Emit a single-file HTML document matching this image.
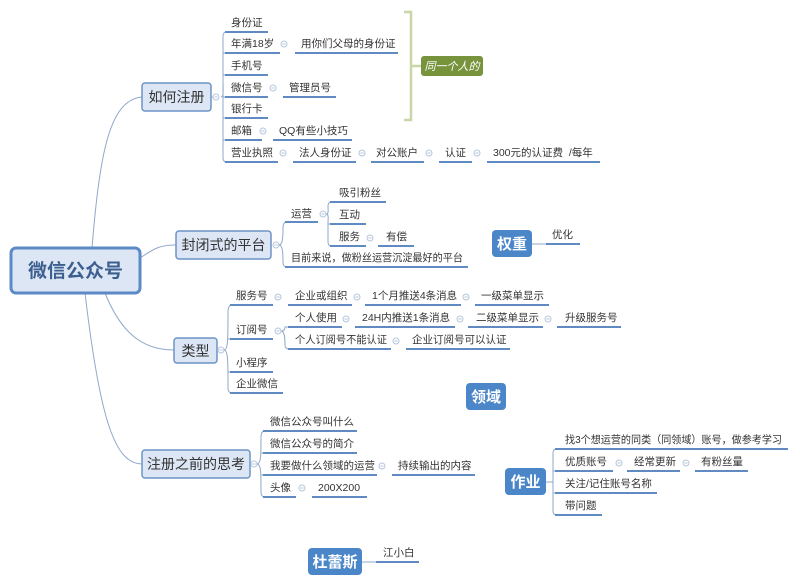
<!DOCTYPE html>
<html><head><meta charset="utf-8"><style>
html,body{margin:0;padding:0;background:#fff;}
svg{display:block;font-family:"Liberation Sans","Noto Sans CJK SC",sans-serif;}
.t{font-size:10.5px;fill:#333;}
.m{font-size:14px;fill:#333;}
.u{stroke:#5f8ac2;stroke-width:2;}
.l{stroke:#8fa8c8;stroke-width:1;fill:none;}
.c{stroke:#b5c6dc;stroke-width:1;fill:#fff;}
.box{fill:#dce6f4;stroke:#6d94c7;stroke-width:1.5;}
.bb{fill:#4a86c8;}
.bt{font-size:15px;fill:#fff;font-weight:bold;}
</style></head><body>
<svg width="800" height="585" viewBox="0 0 800 585">
<defs>
<g id="cm"><circle class="c" cx="0" cy="0" r="3"/><line x1="-1.6" y1="0" x2="1.6" y2="0" stroke="#b5c6dc"/></g>
</defs>
<path class="l" d="M92,248 C100,150 110,100 142,97"/>
<path class="l" d="M140,258 C155,248 160,245 176,245"/>
<path class="l" d="M105,293 C120,330 140,350 174,350"/>
<path class="l" d="M85,293 C100,420 115,464 142,464"/>

<rect x="11" y="248" width="129" height="45" rx="5" fill="#dce6f4" stroke="#5b8ac6" stroke-width="3"/>
<text x="75.5" y="277" text-anchor="middle" font-size="19" font-weight="bold" fill="#3d5f8f">微信公众号</text>

<rect class="box" x="142" y="83" width="69" height="28" rx="3"/>
<text class="m" x="176.5" y="102" text-anchor="middle">如何注册</text>
<path class="l" d="M211,97 H218 M221,97 C224,97 223,90 223,80 V36 Q223,32 227,32 M223,80 V158 Q223,162 227,162 M223,53 H225 M223,75 H225 M223,97 H225 M223,118 H225 M223,140 H225"/>
<use href="#cm" x="216" y="97"/>
<g class="t">
<text x="231" y="26">身份证</text>
<text x="231" y="47">年满18岁</text><text x="301" y="47">用你们父母的身份证</text>
<text x="231" y="69">手机号</text>
<text x="231" y="91">微信号</text><text x="289" y="91">管理员号</text>
<text x="231" y="112">银行卡</text>
<text x="231" y="134">邮箱</text><text x="279" y="134">QQ有些小技巧</text>
<text x="231" y="156">营业执照</text><text x="299" y="156">法人身份证</text><text x="376" y="156">对公账户</text><text x="445" y="156">认证</text><text x="493" y="156">300元的认证费&#160;&#160;/每年</text>
</g>
<g class="u">
<line x1="225" y1="32" x2="268" y2="32"/>
<line x1="225" y1="53" x2="280" y2="53"/><line x1="295" y1="53" x2="398" y2="53"/>
<line x1="225" y1="75" x2="268" y2="75"/>
<line x1="225" y1="97" x2="268" y2="97"/><line x1="283" y1="97" x2="336" y2="97"/>
<line x1="225" y1="118" x2="268" y2="118"/>
<line x1="225" y1="140" x2="262" y2="140"/><line x1="273" y1="140" x2="352" y2="140"/>
<line x1="225" y1="162" x2="278" y2="162"/><line x1="293" y1="162" x2="356" y2="162"/><line x1="371" y1="162" x2="424" y2="162"/><line x1="439" y1="162" x2="472" y2="162"/><line x1="487" y1="162" x2="600" y2="162"/>
</g>
<use href="#cm" x="284" y="44"/><use href="#cm" x="273" y="88"/><use href="#cm" x="263" y="131"/><use href="#cm" x="283" y="153"/><use href="#cm" x="362" y="153"/><use href="#cm" x="429" y="153"/><use href="#cm" x="477" y="153"/>

<path d="M404,12 H411 V120 H404 M411,66 H421" stroke="#c9d6a8" stroke-width="2.5" fill="none"/>
<rect x="421" y="56" width="62" height="20" rx="3" fill="#77933c"/>
<text x="452" y="70" text-anchor="middle" font-size="11" font-style="italic" fill="#fff">同一个人的</text>

<rect class="box" x="176" y="231" width="95" height="28" rx="3"/>
<text class="m" x="223.5" y="250" text-anchor="middle">封闭式的平台</text>
<use href="#cm" x="276" y="245"/>
<path class="l" d="M279,245 C283,245 283,235 283,228 Q283,222 287,222 M279,245 C283,245 283,255 283,262 Q283,267 287,267"/>
<path class="l" d="M326,214 C329,214 328,210 328,206 Q328,202 332,202 M326,214 C329,214 328,218 328,224 H332 M328,224 V242 Q328,246 332,246"/>
<use href="#cm" x="323" y="214"/><use href="#cm" x="370" y="238"/>
<g class="t">
<text x="291" y="217">运营</text>
<text x="339" y="196">吸引粉丝</text>
<text x="339" y="218">互动</text>
<text x="339" y="240">服务</text><text x="386" y="240">有偿</text>
<text x="291" y="261" textLength="172" lengthAdjust="spacingAndGlyphs">目前来说，做粉丝运营沉淀最好的平台</text>
</g>
<g class="u">
<line x1="285" y1="222" x2="318" y2="222"/>
<line x1="330" y1="202" x2="386" y2="202"/>
<line x1="330" y1="224" x2="366" y2="224"/>
<line x1="330" y1="246" x2="366" y2="246"/><line x1="378" y1="246" x2="414" y2="246"/>
<line x1="285" y1="267" x2="468" y2="267"/>
</g>

<rect class="bb" x="492" y="230" width="40" height="27" rx="4"/>
<text class="bt" x="512" y="249" text-anchor="middle">权重</text>
<path class="l" d="M532,244 H546"/>
<text class="t" x="552" y="238">优化</text>
<line class="u" x1="546" y1="244" x2="580" y2="244"/>

<rect class="box" x="174" y="338" width="43" height="25" rx="3"/>
<text class="m" x="195.5" y="356" text-anchor="middle">类型</text>
<use href="#cm" x="221" y="350"/>
<path class="l" d="M224,350 C228,350 228,340 228,312 Q228,305 232,305 M224,350 C228,350 228,360 228,388 Q228,393 232,393 M228,339 H232 M228,372 H232"/>
<path class="l" d="M281,331 C285,331 285,328 285,327 H288 M281,331 C285,331 285,340 285,345 Q285,349 289,349"/>
<g class="t">
<text x="236" y="299">服务号</text><text x="295" y="299">企业或组织</text><text x="372" y="299">1个月推送4条消息</text><text x="481" y="299">一级菜单显示</text>
<text x="236" y="333">订阅号</text>
<text x="295" y="321">个人使用</text><text x="362" y="321">24H内推送1条消息</text><text x="476" y="321">二级菜单显示</text><text x="565" y="321">升级服务号</text>
<text x="295" y="343" textLength="92" lengthAdjust="spacingAndGlyphs">个人订阅号不能认证</text><text x="412" y="343">企业订阅号可以认证</text>
<text x="236" y="366">小程序</text>
<text x="236" y="387">企业微信</text>
</g>
<g class="u">
<line x1="230" y1="305" x2="273" y2="305"/><line x1="288" y1="305" x2="352" y2="305"/><line x1="365" y1="305" x2="461" y2="305"/><line x1="475" y1="305" x2="549" y2="305"/>
<line x1="230" y1="339" x2="273" y2="339"/>
<line x1="288" y1="327" x2="342" y2="327"/><line x1="355" y1="327" x2="455" y2="327"/><line x1="468" y1="327" x2="543" y2="327"/><line x1="557" y1="327" x2="621" y2="327"/>
<line x1="288" y1="349" x2="391" y2="349"/><line x1="406" y1="349" x2="510" y2="349"/>
<line x1="230" y1="372" x2="273" y2="372"/>
<line x1="230" y1="393" x2="283" y2="393"/>
</g>
<use href="#cm" x="278" y="297"/><use href="#cm" x="357" y="297"/><use href="#cm" x="466" y="297"/>
<use href="#cm" x="278" y="331"/>
<use href="#cm" x="346" y="319"/><use href="#cm" x="460" y="319"/><use href="#cm" x="548" y="319"/>
<use href="#cm" x="396" y="341"/>

<rect class="bb" x="466" y="383" width="40" height="27" rx="4"/>
<text class="bt" x="486" y="402" text-anchor="middle">领域</text>

<rect class="box" x="142" y="450" width="108" height="28" rx="3"/>
<text class="m" x="196" y="469" text-anchor="middle">注册之前的思考</text>
<use href="#cm" x="254" y="464"/>
<path class="l" d="M257,464 C261,464 261,455 261,437 Q261,431 265,431 M257,464 C261,464 261,472 261,492 Q261,497 265,497 M261,453 H264 M261,475 H264"/>
<g class="t">
<text x="270" y="425">微信公众号叫什么</text>
<text x="270" y="447">微信公众号的简介</text>
<text x="270" y="469">我要做什么领域的运营</text><text x="398" y="469">持续输出的内容</text>
<text x="270" y="491">头像</text><text x="318" y="491">200X200</text>
</g>
<g class="u">
<line x1="263" y1="431" x2="357" y2="431"/>
<line x1="263" y1="453" x2="357" y2="453"/>
<line x1="263" y1="475" x2="377" y2="475"/><line x1="392" y1="475" x2="475" y2="475"/>
<line x1="263" y1="497" x2="296" y2="497"/><line x1="312" y1="497" x2="367" y2="497"/>
</g>
<use href="#cm" x="382" y="466"/><use href="#cm" x="302" y="488"/>

<rect class="bb" x="505" y="468" width="41" height="27" rx="4"/>
<text class="bt" x="525.5" y="487" text-anchor="middle">作业</text>
<path class="l" d="M546,482 H553 M553,482 C553,470 553,460 553,453 Q553,449 557,449 M553,482 V511 Q553,515 557,515 M553,471 H556 M553,493 H556"/>
<g class="t">
<text x="565" y="443" textLength="217" lengthAdjust="spacingAndGlyphs">找3个想运营的同类（同领域）账号，做参考学习</text>
<text x="565" y="465">优质账号</text><text x="634" y="465">经常更新</text><text x="701" y="465">有粉丝量</text>
<text x="565" y="487">关注/记住账号名称</text>
<text x="565" y="509">带问题</text>
</g>
<g class="u">
<line x1="555" y1="449" x2="788" y2="449"/>
<line x1="555" y1="471" x2="613" y2="471"/><line x1="627" y1="471" x2="680" y2="471"/><line x1="695" y1="471" x2="748" y2="471"/>
<line x1="555" y1="493" x2="657" y2="493"/>
<line x1="555" y1="515" x2="602" y2="515"/>
</g>
<use href="#cm" x="619" y="463"/><use href="#cm" x="686" y="463"/>

<rect class="bb" x="308" y="548" width="54" height="27" rx="4"/>
<text class="bt" x="335" y="567" text-anchor="middle">杜蕾斯</text>
<path class="l" d="M362,562 H376"/>
<text class="t" x="383" y="556">江小白</text>
<line class="u" x1="376" y1="562" x2="419" y2="562"/>
</svg>
</body></html>
